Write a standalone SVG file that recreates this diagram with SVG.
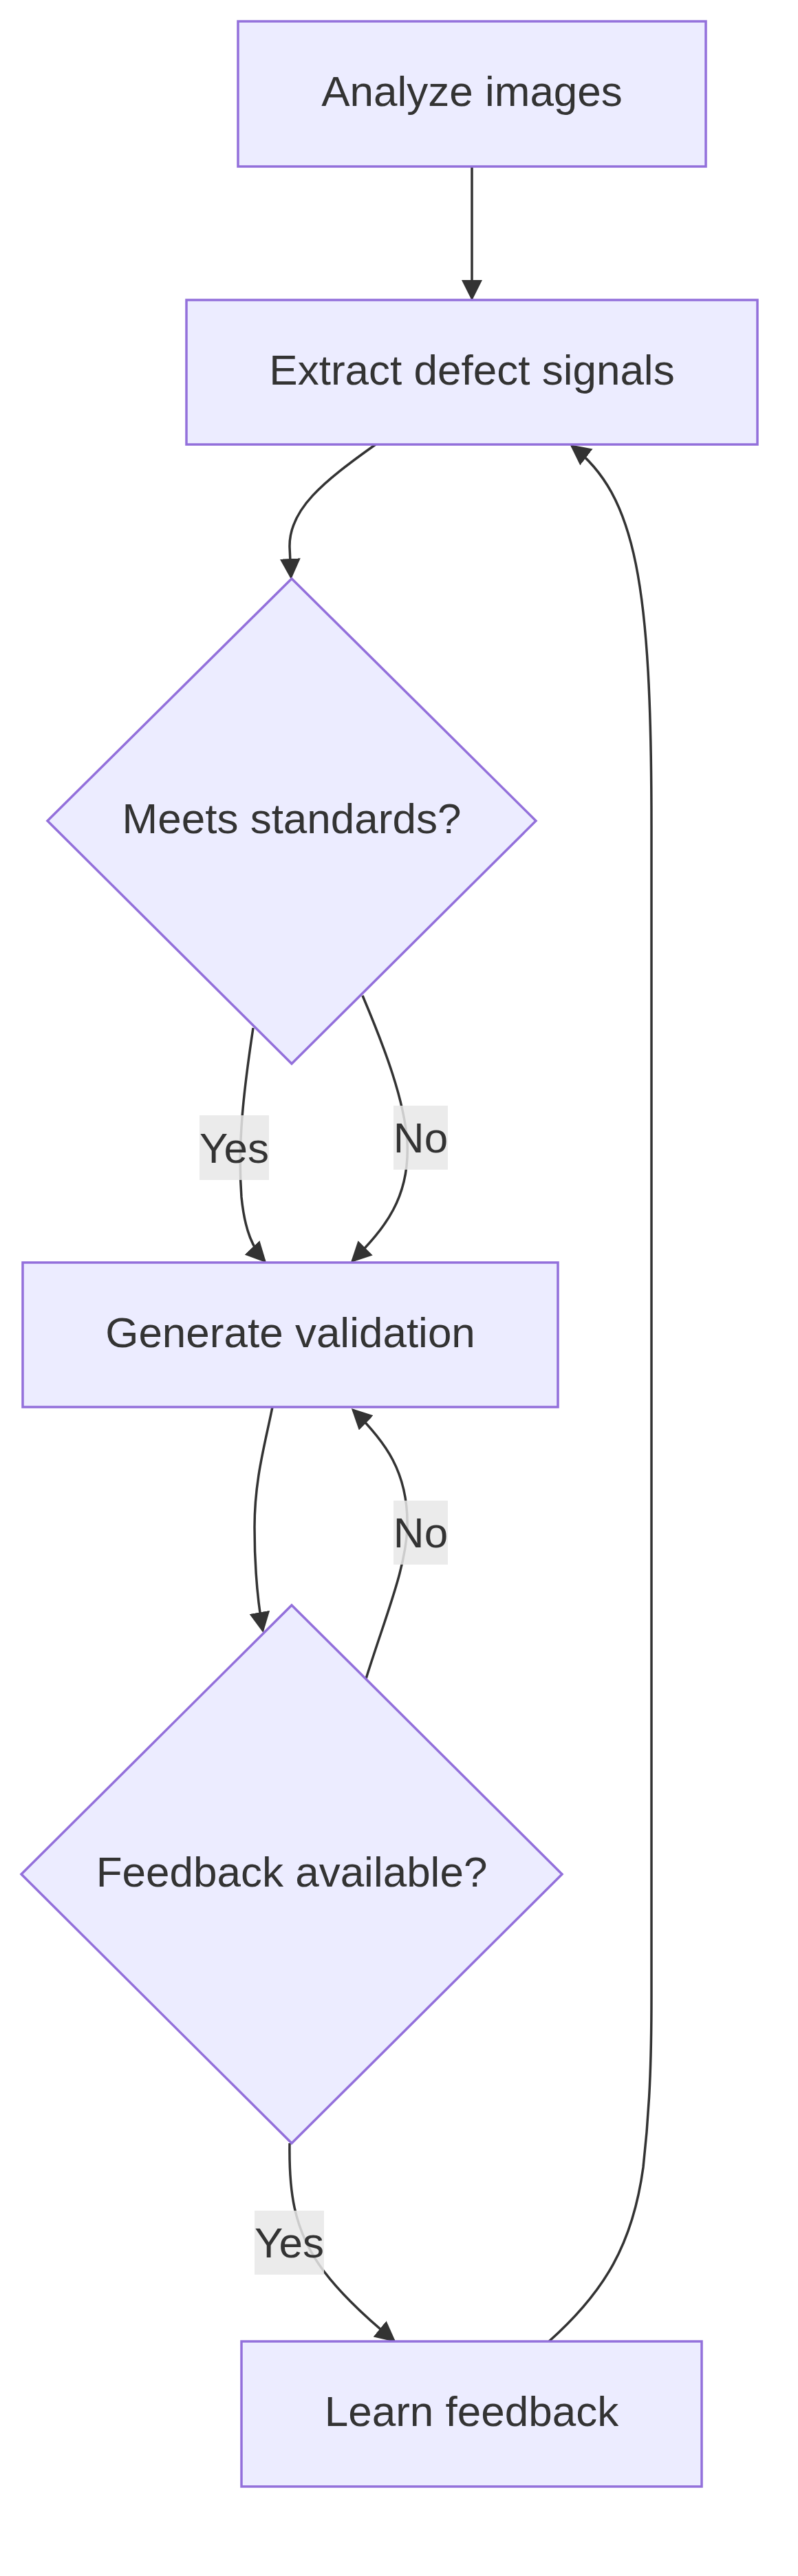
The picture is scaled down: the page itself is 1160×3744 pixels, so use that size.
<svg xmlns="http://www.w3.org/2000/svg" width="1160" height="3744" viewBox="0 0 1160 3744">
<style>
.node rect,.node polygon{fill:#ECECFF;stroke:#9370DB;stroke-width:3.5}
.node text,.lbl text{font-family:"Liberation Sans",Arial,sans-serif;font-size:62px;fill:#333;text-anchor:middle;dominant-baseline:central}
.edge{fill:none;stroke:#333;stroke-width:3.5}
.lbl rect{fill:rgba(232,232,232,0.85)}
</style>
<defs>
<marker id="arr" viewBox="0 0 10 10" refX="9" refY="5" markerUnits="userSpaceOnUse" markerWidth="30" markerHeight="30" orient="auto">
<path d="M0,0 L10,5 L0,10 z" fill="#333"/>
</marker>
</defs>
<rect width="1160" height="3744" fill="#fff"/>
<g id="connectors">
<path class="edge" marker-end="url(#arr)" d="M686,242 L686,434"/>
<path class="edge" marker-end="url(#arr)" d="M546,646 C470,700 420,740 421,795 L423,839"/>
<path class="edge" marker-end="url(#arr)" d="M368,1494 C355,1580 345,1660 351,1740 C356,1790 368,1815 385,1833"/>
<path class="edge" marker-end="url(#arr)" d="M527,1447 C560,1525 588,1600 592,1660 C596,1740 560,1785 512,1833"/>
<path class="edge" marker-end="url(#arr)" d="M396,2045 C385,2100 370,2150 370,2220 C370,2280 375,2330 382,2370"/>
<path class="edge" marker-end="url(#arr)" d="M532,2440 C560,2350 590,2280 592,2220 C594,2140 560,2095 513,2049"/>
<path class="edge" marker-end="url(#arr)" d="M421,3115 C420,3180 425,3240 470,3300 C500,3340 540,3375 573,3402"/>
<path class="edge" marker-end="url(#arr)" d="M798,3403 C880,3330 920,3260 935,3150 C944,3070 947,3000 947,2900 L947,1200 C947,850 925,720 831,648"/>
</g>
<g id="edge-labels">
<g class="lbl"><rect x="290" y="1621" width="101" height="94"/><text x="340.5" y="1668">Yes</text></g>
<g class="lbl"><rect x="572" y="1607" width="79" height="93"/><text x="611.5" y="1653.5">No</text></g>
<g class="lbl"><rect x="572" y="2181" width="79" height="93"/><text x="611.5" y="2227.5">No</text></g>
<g class="lbl"><rect x="370" y="3213" width="101" height="93"/><text x="420.5" y="3259.5">Yes</text></g>
</g>
<g id="n-analyze" class="node"><rect x="346" y="31" width="680" height="211"/><text x="686" y="132">Analyze images</text></g>
<g id="n-extract" class="node"><rect x="271" y="436" width="830" height="210"/><text x="686" y="537">Extract defect signals</text></g>
<g id="n-meets" class="node"><polygon points="424,841 779,1193 424,1546 69,1193"/><text x="424" y="1189">Meets standards?</text></g>
<g id="n-generate" class="node"><rect x="33" y="1835" width="778" height="210"/><text x="422" y="1936">Generate validation</text></g>
<g id="n-feedback" class="node"><polygon points="424,2333 817,2724 424,3115 31,2724"/><text x="424" y="2720">Feedback available?</text></g>
<g id="n-learn" class="node"><rect x="351" y="3403" width="669" height="211"/><text x="685.5" y="3504">Learn feedback</text></g>
</svg>
